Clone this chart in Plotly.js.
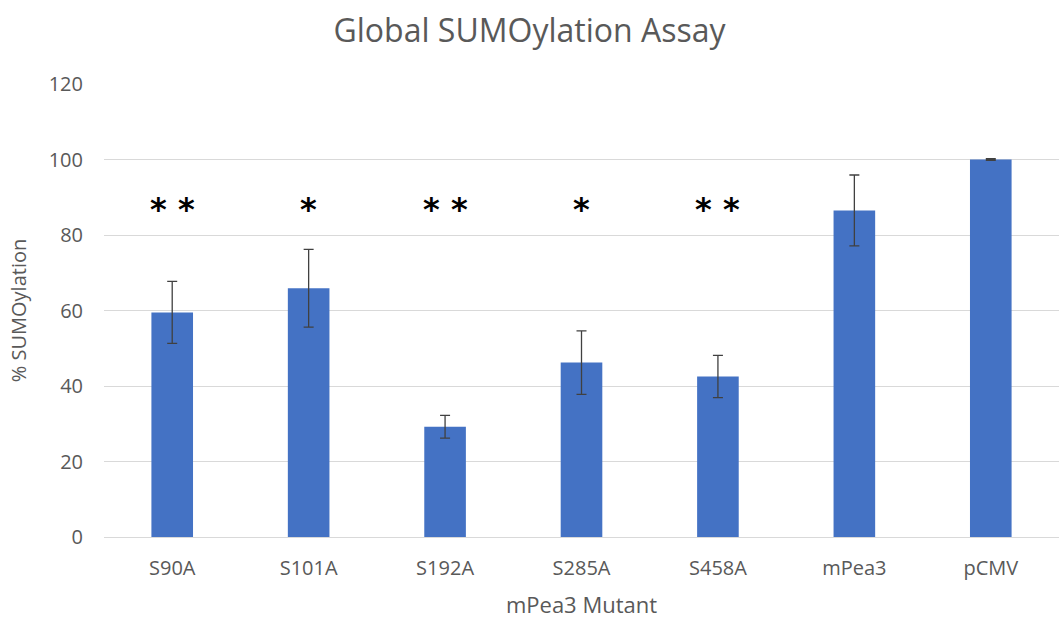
<!DOCTYPE html>
<html>
<head>
<meta charset="utf-8">
<script src="https://cdn.plot.ly/plotly-3.0.1.min.js"></script>
<style>html,body{margin:0;padding:0;background:#fff;}#chart{width:1059px;height:619px;}</style>
</head>
<body>
<div id="chart"></div>
<script>
const categories = ["S90A", "S101A", "S192A", "S285A", "S458A", "mPea3", "pCMV"];
const sumoylation = [59.5, 65.9, 29.2, 46.2, 42.5, 86.5, 100];
const errors = [8.2, 10.3, 3.0, 8.4, 5.6, 9.4, 0.2];
const significance = ["**", "*", "**", "*", "**", "", ""];
const markerY = 88;

const trace = {
  type: "bar",
  x: categories,
  y: sumoylation,
  marker: {color: "#4472C4"},
  error_y: {type: "data", array: errors, visible: true, color: "#404040", thickness: 1.3, width: 5},
  hoverinfo: "x+y"
};

const annotations = categories.map((c, i) => ({
  x: c, y: markerY, xref: "x", yref: "y",
  text: "<b>" + significance[i].split("").join(" ") + "</b>",
  showarrow: false,
  font: {family: "DejaVu Sans", size: 32, color: "#000"},
  yanchor: "middle", yshift: -4
})).filter((a, i) => significance[i] !== "");

const layout = {
  width: 1059, height: 619,
  margin: {l: 104, r: 0, t: 84, b: 82},
  paper_bgcolor: "#fff", plot_bgcolor: "#fff",
  bargap: 0.695,
  showlegend: false,
  title: {text: "Global SUMOylation Assay", x: 0.5, xanchor: "center", y: 0.95, yanchor: "middle",
          font: {family: "Open Sans", size: 32, color: "#595959"}},
  xaxis: {
    title: {text: "mPea3 Mutant", font: {family: "Open Sans", size: 22, color: "#595959"}, standoff: 20},
    tickfont: {family: "Open Sans", size: 20, color: "#595959"},
    ticklabelstandoff: 17,
    showgrid: false, showline: false, ticks: "", automargin: false
  },
  yaxis: {
    title: {text: "% SUMOylation", font: {family: "Open Sans", size: 20, color: "#595959"}, standoff: 16},
    range: [0, 120], dtick: 20,
    tickfont: {family: "Open Sans", size: 20, color: "#595959"},
    ticklabelstandoff: 20,
    gridcolor: "#d9d9d9", gridwidth: 1,
    zeroline: true, zerolinecolor: "#d9d9d9", zerolinewidth: 1,
    showline: false, ticks: "", ticklen: 0, automargin: false
  },
  annotations: annotations
};

Plotly.newPlot("chart", [trace], layout, {displayModeBar: false, staticPlot: true});
</script>
</body>
</html>
